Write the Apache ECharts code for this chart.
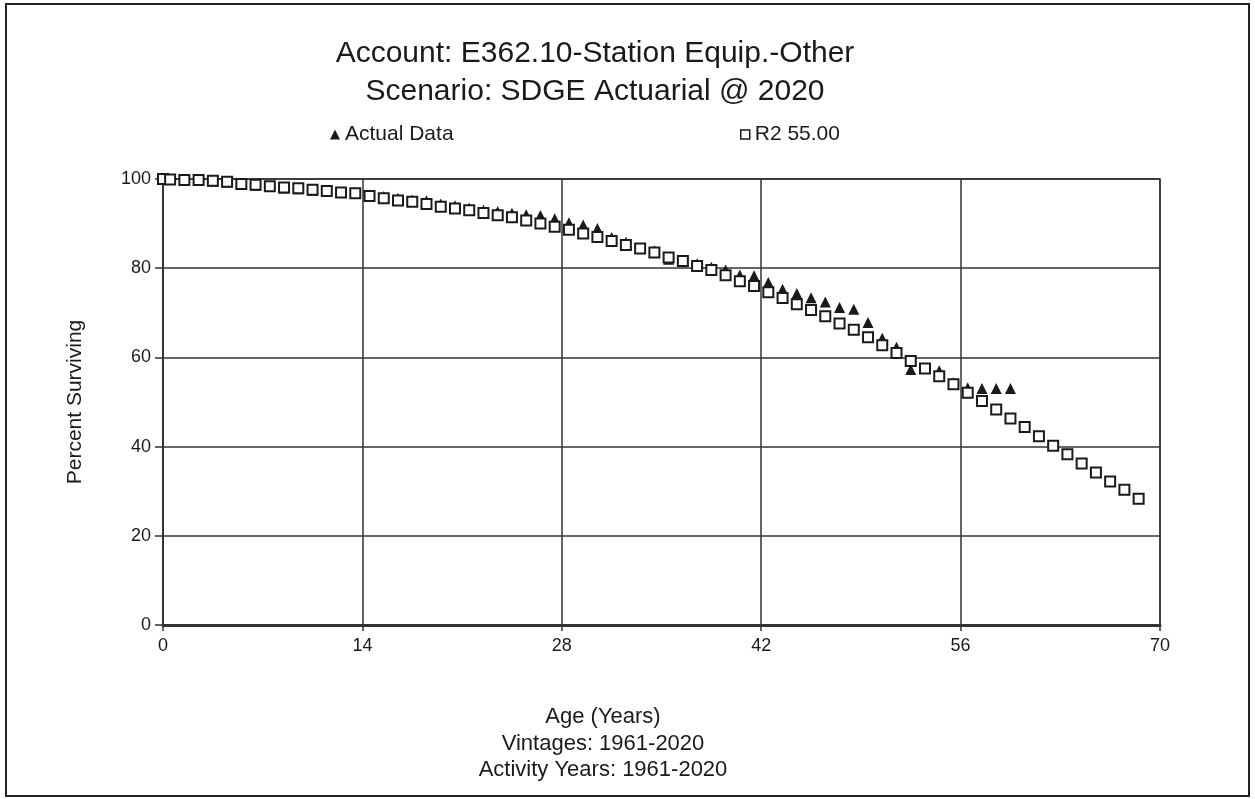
<!DOCTYPE html>
<html>
<head>
<meta charset="utf-8">
<script src="https://cdn.jsdelivr.net/npm/echarts@6/dist/echarts.min.js"></script>
<style>
html,body{margin:0;padding:0;background:#fff;}
#chart{width:1255px;height:799px;}
</style>
</head>
<body>
<div id="chart"></div>
<script>
// ---- data ----
var titleLines = ['Account: E362.10-Station Equip.-Other', 'Scenario: SDGE Actuarial @ 2020'];
var xAxisTitleLines = ['Age (Years)', 'Vintages: 1961-2020', 'Activity Years: 1961-2020'];
var yAxisTitle = 'Percent Surviving';
var xTicks = [0, 14, 28, 42, 56, 70];
var yTicks = [0, 20, 40, 60, 80, 100];

var actualName = 'Actual Data';
var actualAges = [0, 0.5, 1.5, 2.5, 3.5, 4.5, 5.5, 6.5, 7.5, 8.5, 9.5, 10.5, 11.5, 12.5, 13.5, 14.5, 15.5, 16.5, 17.5, 18.5, 19.5,
  20.5, 21.5, 22.5, 23.5, 24.5, 25.5, 26.5, 27.5, 28.5, 29.5, 30.5, 31.5, 32.5, 33.5, 34.5, 35.5, 36.5, 37.5, 38.5, 39.5,
  40.5, 41.5, 42.5, 43.5, 44.5, 45.5, 46.5, 47.5, 48.5, 49.5, 50.5, 51.5, 52.5, 53.5, 54.5, 55.5, 56.5, 57.5, 58.5, 59.5];
var actualValues = [100, 99.9, 99.8, 99.7, 99.5, 99.3, 98.9, 98.6, 98.3, 98.0, 97.8, 97.5, 97.2, 97.0, 96.9, 96.4, 96.1, 95.7, 95.3, 95.1, 94.4,
  94.0, 93.5, 93.0, 92.7, 92.3, 92.0, 91.8, 91.1, 90.2, 89.7, 88.9, 86.9, 85.8, 84.5, 83.9, 82.0, 81.7, 81.0, 80.2, 79.6,
  78.5, 78.3, 76.8, 75.3, 74.3, 73.4, 72.4, 71.2, 70.8, 67.8, 64.3, 62.3, 57.3, 57.6, 57.0, 54.3, 53.2, 53.0, 53.0, 53.0];

var curveName = 'R2 55.00';
var curveAges = [0, 0.5, 1.5, 2.5, 3.5, 4.5, 5.5, 6.5, 7.5, 8.5, 9.5, 10.5, 11.5, 12.5, 13.5, 14.5, 15.5, 16.5, 17.5, 18.5, 19.5,
  20.5, 21.5, 22.5, 23.5, 24.5, 25.5, 26.5, 27.5, 28.5, 29.5, 30.5, 31.5, 32.5, 33.5, 34.5, 35.5, 36.5, 37.5, 38.5, 39.5,
  40.5, 41.5, 42.5, 43.5, 44.5, 45.5, 46.5, 47.5, 48.5, 49.5, 50.5, 51.5, 52.5, 53.5, 54.5, 55.5, 56.5, 57.5, 58.5, 59.5,
  60.5, 61.5, 62.5, 63.5, 64.5, 65.5, 66.5, 67.5, 68.5];
var curveValues = [100, 99.9, 99.8, 99.8, 99.6, 99.4, 98.9, 98.7, 98.4, 98.1, 97.9, 97.6, 97.3, 97.0, 96.8, 96.2, 95.7, 95.2, 94.9, 94.4, 93.8,
  93.4, 93.0, 92.4, 91.9, 91.4, 90.7, 90.0, 89.3, 88.6, 87.8, 87.0, 86.1, 85.2, 84.4, 83.5, 82.4, 81.6, 80.5, 79.6, 78.4,
  77.1, 76.0, 74.6, 73.3, 71.9, 70.6, 69.2, 67.6, 66.2, 64.5, 62.7, 61.0, 59.2, 57.5, 55.8, 54.0, 52.1, 50.2, 48.3, 46.3,
  44.4, 42.3, 40.2, 38.3, 36.2, 34.2, 32.2, 30.3, 28.3];

// ---- chart ----
var FONT = "'Liberation Sans', Arial, sans-serif";
var INK = '#1a1a1a';

function pairs(xs, ys) {
  var out = [];
  for (var i = 0; i < xs.length; i++) out.push([xs[i], ys[i]]);
  return out;
}

var chart = echarts.init(document.getElementById('chart'), null, {renderer: 'canvas'});
var option = {
  backgroundColor: '#ffffff',
  animation: false,
  textStyle: {fontFamily: FONT, color: INK},
  title: [
    {
      text: titleLines.join('\n'),
      left: 590, top: 30, textAlign: 'center',
      textStyle: {fontFamily: FONT, fontSize: 30, fontWeight: 'normal', color: INK, lineHeight: 38}
    },
    {
      text: xAxisTitleLines.join('\n'),
      left: 598, top: 699, textAlign: 'center',
      textStyle: {fontFamily: FONT, fontSize: 22, fontWeight: 'normal', color: INK, lineHeight: 26.5}
    }
  ],
  legend: [
    {
      data: [{name: actualName, icon: 'triangle'}],
      left: 325, top: 119,
      itemWidth: 10, itemHeight: 10, itemGap: 10,
      textStyle: {fontFamily: FONT, fontSize: 21, color: INK},
      itemStyle: {color: INK, borderWidth: 0}
    },
    {
      data: [{name: curveName, icon: 'rect'}],
      left: 735, top: 119,
      itemWidth: 9, itemHeight: 9, itemGap: 10,
      textStyle: {fontFamily: FONT, fontSize: 21, color: INK},
      itemStyle: {color: '#ffffff', borderColor: INK, borderWidth: 1.5}
    }
  ],
  grid: {
    left: 163, right: 95, top: 179, bottom: 174,
    show: true, borderColor: '#333', borderWidth: 1.5, backgroundColor: 'transparent'
  },
  xAxis: {
    type: 'value', min: xTicks[0], max: xTicks[xTicks.length - 1], interval: 14,
    axisLine: {show: true, onZero: false, lineStyle: {color: '#333', width: 3}},
    axisTick: {show: true, length: 6, lineStyle: {color: '#333', width: 1.5}},
    axisLabel: {fontFamily: FONT, fontSize: 18, color: INK, margin: 12},
    splitLine: {show: true, lineStyle: {color: '#333', width: 1.5}}
  },
  yAxis: {
    type: 'value', min: yTicks[0], max: yTicks[yTicks.length - 1], interval: 20,
    name: yAxisTitle, nameLocation: 'middle', nameGap: 77,
    nameTextStyle: {fontFamily: FONT, fontSize: 21, color: INK},
    axisLine: {show: true, lineStyle: {color: '#333', width: 1.5}},
    axisTick: {show: true, length: 8, lineStyle: {color: '#333', width: 1.5}},
    axisLabel: {fontFamily: FONT, fontSize: 18, color: INK, margin: 12},
    splitLine: {show: true, lineStyle: {color: '#333', width: 1.5}}
  },
  graphic: [
    {
      type: 'rect', silent: true, z: 100,
      shape: {x: 6, y: 4, width: 1243, height: 792},
      style: {fill: 'none', stroke: '#222', lineWidth: 2}
    }
  ],
  series: [
    {
      name: actualName, type: 'scatter',
      data: pairs(actualAges, actualValues),
      symbol: 'triangle', symbolSize: [11, 11],
      itemStyle: {color: INK, opacity: 1},
      z: 2
    },
    {
      name: curveName, type: 'scatter',
      data: pairs(curveAges, curveValues),
      symbol: 'rect', symbolSize: [10, 10],
      itemStyle: {color: '#ffffff', borderColor: INK, borderWidth: 2, opacity: 1},
      z: 3
    }
  ]
};
chart.setOption(option);
</script>
</body>
</html>
